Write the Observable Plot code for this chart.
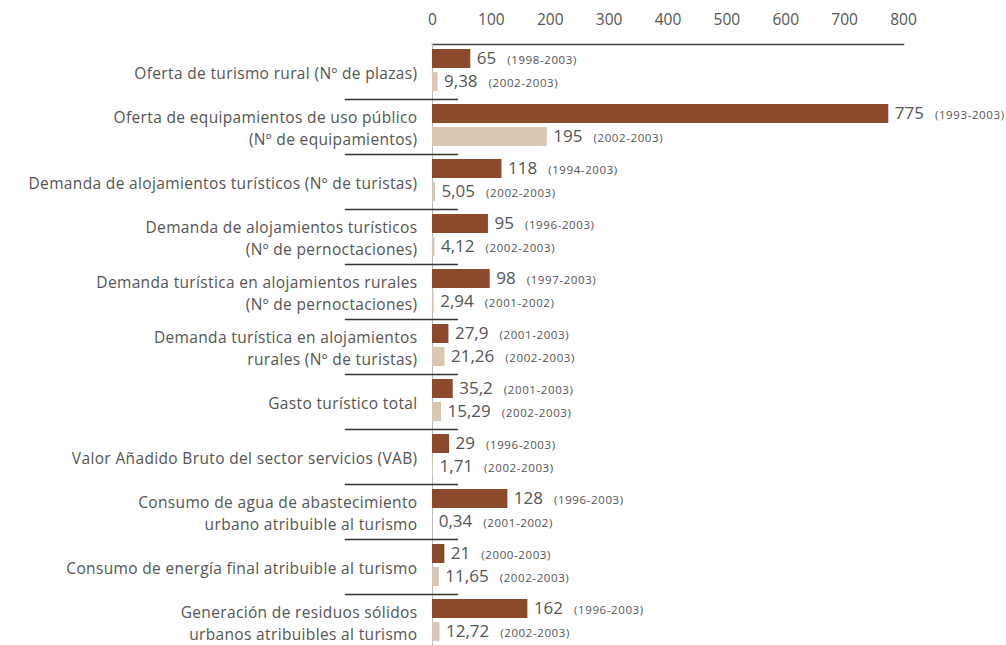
<!DOCTYPE html>
<html>
<head>
<meta charset="utf-8">
<script src="https://cdn.jsdelivr.net/npm/d3@7"></script>
<script src="https://cdn.jsdelivr.net/npm/@observablehq/plot@0.6"></script>
<style>
  html, body { margin: 0; padding: 0; background: #fff; }
  #chart { width: 1006px; height: 645px; overflow: hidden; }
  .cat-label text { letter-spacing: 0.35px; }
</style>
</head>
<body>
<div id="chart"></div>
<script>
const categories = [
  "Oferta de turismo rural (Nº de plazas)",
  "Oferta de equipamientos de uso público\n(Nº de equipamientos)",
  "Demanda de alojamientos turísticos (Nº de turistas)",
  "Demanda de alojamientos turísticos\n(Nº de pernoctaciones)",
  "Demanda turística en alojamientos rurales\n(Nº de pernoctaciones)",
  "Demanda turística en alojamientos\nrurales (Nº de turistas)",
  "Gasto turístico total",
  "Valor Añadido Bruto del sector servicios (VAB)",
  "Consumo de agua de abastecimiento\nurbano atribuible al turismo",
  "Consumo de energía final atribuible al turismo",
  "Generación de residuos sólidos\nurbanos atribuibles al turismo"
];
const longValues = [65, 775, 118, 95, 98, 27.9, 35.2, 29, 128, 21, 162];
const longPeriods = ["(1998-2003)", "(1993-2003)", "(1994-2003)", "(1996-2003)", "(1997-2003)", "(2001-2003)", "(2001-2003)", "(1996-2003)", "(1996-2003)", "(2000-2003)", "(1996-2003)"];
const shortValues = [9.38, 195, 5.05, 4.12, 2.94, 21.26, 15.29, 1.71, 0.34, 11.65, 12.72];
const shortPeriods = ["(2002-2003)", "(2002-2003)", "(2002-2003)", "(2002-2003)", "(2001-2002)", "(2002-2003)", "(2002-2003)", "(2002-2003)", "(2001-2002)", "(2002-2003)", "(2002-2003)"];
const xTicks = [0, 100, 200, 300, 400, 500, 600, 700, 800];

const rows = categories.map((c, i) => ({
  category: c,
  long: longValues[i],
  short: shortValues[i]
}));
const fmt = v => String(v).replace(".", ",");

const brown = "#8a4a2b";
const light = "#d9c7b4";
const grey = "#555";

const svg = Plot.plot({
  width: 1006,
  height: 649,
  marginTop: 44,
  marginBottom: 0,
  marginLeft: 432,
  marginRight: 103,
  style: { fontFamily: "'Open Sans', sans-serif", background: "white", color: grey, overflow: "visible" },
  x: { domain: [0, 800], axis: null },
  y: { domain: categories, padding: 0, axis: null, label: null },
  marks: [
    Plot.axisX({ anchor: "top", ticks: xTicks, tickSize: 0, tickPadding: 20, fontSize: 15.5, fill: grey, tickFormat: d => String(d), label: null }),
    Plot.axisY({ tickSize: 0, tickPadding: 15, fontSize: 15.5, lineHeight: 1.38, fill: grey, label: null, className: "cat-label" }),
    Plot.frame({ anchor: "top", stroke: "#444", strokeWidth: 1.5 }),
    Plot.ruleX([0], { stroke: "#bbb" }),
    Plot.ruleY(categories.slice(0, -1), { x1: -148, x2: 44, dy: 27.5, stroke: "#333", strokeWidth: 1.3 }),
    Plot.barX(rows, { y: "category", x: "long", fill: brown, insetTop: 5, insetBottom: 31 }),
    Plot.barX(rows, { y: "category", x: "short", fill: light, insetTop: 28, insetBottom: 8 }),
    Plot.text(rows, { y: "category", x: "long", text: d => fmt(d.long), dx: 6, dy: -13, textAnchor: "start", fontSize: 17, fill: grey, className: "val-long" }),
    Plot.text(rows, { y: "category", x: "short", text: d => fmt(d.short), dx: 6, dy: 10, textAnchor: "start", fontSize: 17, fill: grey, className: "val-short" })
  ]
});

d3.select(svg).selectAll("g.val-long text").each(function (_, i) {
  d3.select(this).append("tspan").attr("dx", 11).attr("font-size", 11.5).attr("letter-spacing", 0.6).text(longPeriods[i]);
});
d3.select(svg).selectAll("g.val-short text").each(function (_, i) {
  d3.select(this).append("tspan").attr("dx", 11).attr("font-size", 11.5).attr("letter-spacing", 0.6).text(shortPeriods[i]);
});

document.getElementById("chart").appendChild(svg);
</script>
</body>
</html>
